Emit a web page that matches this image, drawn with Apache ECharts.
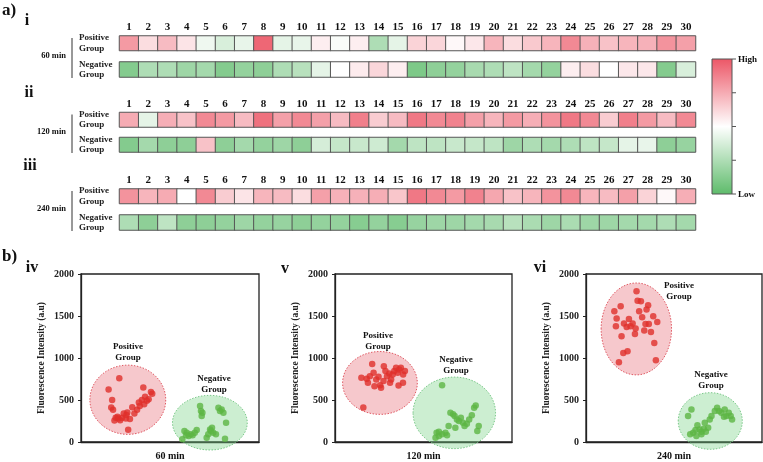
<!DOCTYPE html>
<html><head><meta charset="utf-8">
<script src="https://cdn.jsdelivr.net/npm/echarts@6/dist/echarts.min.js"></script>
<style>html,body{margin:0;padding:0;background:#fff}#c{width:763px;height:462px}</style>
</head><body><div id="c"></div>
<script>
// ---------- heatmap data (0 = Low / green, 1 = High / red) ----------
const columns = ['1','2','3','4','5','6','7','8','9','10','11','12','13','14','15','16','17','18','19','20','21','22','23','24','25','26','27','28','29','30'];
const rowNames = ['Positive\nGroup', 'Negative\nGroup'];
const timeLabels = ['60 min', '120 min', '240 min'];
const pos60  = [0.8,0.6,0.7,0.58,0.45,0.38,0.43,0.95,0.42,0.43,0.55,0.48,0.55,0.25,0.42,0.63,0.62,0.52,0.57,0.72,0.6,0.66,0.72,0.85,0.73,0.68,0.72,0.73,0.82,0.78];
const neg60  = [0.12,0.25,0.25,0.2,0.22,0.12,0.17,0.15,0.25,0.28,0.42,0.5,0.56,0.62,0.55,0.1,0.15,0.17,0.23,0.25,0.3,0.22,0.17,0.55,0.6,0.5,0.57,0.57,0.12,0.38];
const pos120 = [0.75,0.42,0.74,0.68,0.85,0.8,0.7,0.92,0.78,0.85,0.78,0.7,0.88,0.65,0.7,0.9,0.85,0.87,0.78,0.72,0.8,0.74,0.82,0.9,0.85,0.65,0.88,0.8,0.7,0.85];
const neg120 = [0.12,0.22,0.15,0.15,0.68,0.15,0.22,0.17,0.2,0.15,0.37,0.32,0.33,0.35,0.22,0.3,0.3,0.33,0.32,0.3,0.2,0.25,0.22,0.25,0.3,0.32,0.42,0.43,0.15,0.18];
const pos240 = [0.82,0.72,0.75,0.5,0.85,0.65,0.58,0.72,0.7,0.6,0.78,0.73,0.73,0.74,0.67,0.9,0.85,0.8,0.87,0.76,0.68,0.72,0.82,0.85,0.72,0.7,0.78,0.63,0.52,0.74];
const neg240 = [0.25,0.15,0.3,0.15,0.15,0.17,0.2,0.17,0.18,0.15,0.17,0.17,0.13,0.17,0.13,0.18,0.2,0.2,0.22,0.23,0.28,0.24,0.2,0.24,0.2,0.2,0.22,0.22,0.25,0.22];
const scaleColors = ['#5dbb6a', '#ffffff', '#ec5666'];
const scaleText = ['High', 'Low'];

// ---------- scatter data: [x position (0-10), fluorescence] ----------
const yTicks = [0, 500, 1000, 1500, 2000];
const pos60Pts = [[2.15,760],[1.55,625],[1.75,500],[1.7,410],[1.8,385],[1.95,290],[1.88,255],[2.1,280],[2.2,260],[2.3,290],[2.4,340],[2.55,320],[2.52,280],[2.65,145],[2.75,275],[2.88,415],[3.0,340],[3.15,385],[3.3,430],[3.42,500],[3.5,650],[3.6,540],[3.7,490],[3.8,510],[3.93,595],[4.0,575],[3.25,470],[2.6,350],[2.05,300],[3.55,450]];
const neg60Pts = [[5.69,32],[5.81,131],[5.94,111],[6.05,71],[6.16,91],[6.27,79],[6.39,111],[6.5,143],[6.69,428],[6.74,368],[6.82,348],[6.78,309],[7.06,51],[7.15,91],[7.25,150],[7.36,170],[7.43,111],[7.58,91],[7.72,408],[7.81,368],[7.9,388],[8.0,348],[8.15,230],[8.09,40],[5.9,80],[7.3,130]];
const pos120Pts = [[1.6,412],[1.49,764],[2.1,930],[1.97,784],[1.86,705],[2.18,824],[2.33,745],[2.46,776],[2.55,677],[2.6,645],[2.76,903],[2.85,844],[2.94,784],[3.07,816],[3.17,745],[3.26,804],[3.35,844],[3.45,883],[3.54,824],[3.63,863],[3.72,883],[3.85,804],[3.95,844],[3.59,673],[3.84,705],[3.11,705],[2.74,725],[2.23,665],[1.79,752]];
const neg120Pts = [[6.05,677],[5.74,111],[5.68,51],[5.87,71],[6.05,91],[6.24,111],[6.33,79],[6.52,348],[6.67,329],[6.76,309],[6.89,269],[7.0,249],[7.11,289],[7.23,230],[7.32,190],[7.45,218],[7.58,269],[7.73,317],[7.86,408],[7.95,436],[8.12,190],[8.04,131],[6.8,170],[6.42,190],[5.87,123]];
const pos240Pts = [[2.87,1794],[2.93,1683],[3.12,1675],[3.53,1628],[3.44,1576],[3.02,1556],[1.97,1616],[1.61,1556],[1.74,1469],[1.7,1378],[2.02,1259],[2.16,1410],[2.44,1465],[2.31,1370],[2.53,1378],[2.65,1410],[2.78,1287],[3.19,1485],[3.31,1327],[3.38,1406],[3.57,1406],[3.69,1311],[3.82,1497],[4.05,1430],[3.88,1180],[3.97,974],[2.12,1061],[2.36,1081],[1.87,950],[2.82,1350]];
const neg240Pts = [[5.8,309],[5.99,388],[5.92,91],[6.09,111],[6.22,143],[6.33,198],[6.45,150],[6.56,123],[6.69,158],[6.81,123],[6.94,170],[7.03,269],[7.13,309],[7.32,368],[7.45,408],[7.56,368],[7.69,348],[7.84,301],[7.98,309],[8.11,348],[8.22,309],[8.3,269],[7.88,388],[6.27,71],[6.56,91],[6.75,230]];
// ellipses: [centerX, centerY, radiusX, radiusY] in data units
const posEllipses = [[2.63,503,2.13,412],[2.54,703,2.11,374],[2.86,1346,2.0,547]];
const negEllipses = [[7.24,230,2.1,325],[6.74,347,2.33,426],[7.06,250,1.82,337]];
const groupLabels = ['Positive\nGroup', 'Negative\nGroup'];

const FONT = '"Liberation Serif", "Times New Roman", serif';

// ---------- layout ----------
const hmLeft = 119.5, hmWidth = 576;
const hmRows = [
  {top: 36, h: 14.5, vals: pos60, name: rowNames[0], showCols: true},
  {top: 62, h: 15, vals: neg60, name: rowNames[1], showCols: false},
  {top: 112.5, h: 14.5, vals: pos120, name: rowNames[0], showCols: true},
  {top: 137.5, h: 14.5, vals: neg120, name: rowNames[1], showCols: false},
  {top: 189, h: 14.5, vals: pos240, name: rowNames[0], showCols: true},
  {top: 215, h: 15, vals: neg240, name: rowNames[1], showCols: false}
];
const scPlots = [
  {left: 81, width: 178, pos: pos60Pts, neg: neg60Pts},
  {left: 335, width: 177, pos: pos120Pts, neg: neg120Pts},
  {left: 586, width: 176, pos: pos240Pts, neg: neg240Pts}
];
const scTop = 274, scH = 169;

const grid = [], xAxis = [], yAxis = [], series = [];
hmRows.forEach((r, k) => {
  grid.push({left: hmLeft, top: r.top, width: hmWidth, height: r.h});
  xAxis.push({gridIndex: k, type: 'category', data: columns, position: 'top',
    axisLine: {show: false}, axisTick: {show: false}, splitLine: {show: false},
    axisLabel: {show: r.showCols, margin: 3, fontFamily: FONT, fontWeight: 'bold', fontSize: 11, color: '#111'}});
  yAxis.push({gridIndex: k, type: 'category', data: [r.name],
    axisLine: {show: false}, axisTick: {show: false}, splitLine: {show: false},
    axisLabel: {align: 'left', margin: 40.5, fontFamily: FONT, fontWeight: 'bold', fontSize: 9, lineHeight: 10.5, color: '#222'}});
  series.push({type: 'heatmap', xAxisIndex: k, yAxisIndex: k,
    data: r.vals.map((v, i) => [i, 0, v]),
    itemStyle: {borderColor: '#555', borderWidth: 1}, emphasis: {disabled: true}});
});

function ellipseSeries(idx, data, fill, stroke) {
  return {type: 'custom', xAxisIndex: idx, yAxisIndex: idx, clip: false, z: 1,
    data: [data], encode: {x: 0, y: 1}, silent: true,
    renderItem: function (params, api) {
      const c = api.coord([api.value(0), api.value(1)]);
      const s = api.size([api.value(2), api.value(3)]);
      return {type: 'ellipse', shape: {cx: c[0], cy: c[1], rx: s[0], ry: s[1]},
        style: {fill: fill, stroke: stroke, lineWidth: 1, lineDash: [1.5, 1.5]}};
    }};
}

scPlots.forEach((p, j) => {
  const k = 6 + j;
  grid.push({left: p.left, top: scTop, width: p.width, height: scH, show: true,
    borderColor: '#222', borderWidth: 1.3, backgroundColor: 'transparent'});
  xAxis.push({gridIndex: k, type: 'value', min: 0, max: 10,
    axisLine: {show: true, lineStyle: {color: '#222', width: 1.3}}, axisTick: {show: false},
    axisLabel: {show: false}, splitLine: {show: false},
    name: timeLabels[j], nameLocation: 'middle', nameGap: 9,
    nameTextStyle: {fontFamily: FONT, fontWeight: 'bold', fontSize: 10, color: '#111'}});
  yAxis.push({gridIndex: k, type: 'value', min: yTicks[0], max: yTicks[yTicks.length - 1], interval: yTicks[1] - yTicks[0],
    axisLine: {show: true, lineStyle: {color: '#222', width: 1.3}},
    axisTick: {show: true, length: 3, lineStyle: {color: '#222'}},
    axisLabel: {margin: 7, fontFamily: FONT, fontWeight: 'bold', fontSize: 10, color: '#222', formatter: (v) => String(v)},
    splitLine: {show: false},
    name: 'Fluorescence Intensity (a.u)', nameLocation: 'middle', nameGap: 34, nameRotate: 90,
    nameTextStyle: {fontFamily: FONT, fontWeight: 'bold', fontSize: 9.5, color: '#222'}});
  series.push(ellipseSeries(k, posEllipses[j], 'rgba(232,110,120,0.38)', '#e05a64'));
  series.push(ellipseSeries(k, negEllipses[j], 'rgba(120,210,135,0.38)', '#7cc98a'));
  series.push({type: 'scatter', xAxisIndex: k, yAxisIndex: k, data: p.pos, symbolSize: 6.5, z: 3,
    itemStyle: {color: '#e0302a'}});
  series.push({type: 'scatter', xAxisIndex: k, yAxisIndex: k, data: p.neg, symbolSize: 6.5, z: 3,
    itemStyle: {color: '#5cb544'}});
});

const bold = (size) => ({fontFamily: FONT, fontWeight: 'bold', fontSize: size, fill: '#111'});
const graphic = [
  {type: 'text', left: 2, top: 2, style: Object.assign({text: 'a)'}, bold(17))},
  {type: 'text', left: 2, top: 248, style: Object.assign({text: 'b)'}, bold(17))},
  {type: 'text', x: 27, y: 21, style: Object.assign({text: 'i', align: 'center', verticalAlign: 'middle'}, bold(16))},
  {type: 'text', x: 29, y: 93, style: Object.assign({text: 'ii', align: 'center', verticalAlign: 'middle'}, bold(16))},
  {type: 'text', x: 30, y: 166, style: Object.assign({text: 'iii', align: 'center', verticalAlign: 'middle'}, bold(16))},
  {type: 'text', x: 32, y: 268, style: Object.assign({text: 'iv', align: 'center', verticalAlign: 'middle'}, bold(16))},
  {type: 'text', x: 285, y: 269, style: Object.assign({text: 'v', align: 'center', verticalAlign: 'middle'}, bold(16))},
  {type: 'text', x: 540, y: 268, style: Object.assign({text: 'vi', align: 'center', verticalAlign: 'middle'}, bold(16))}
];
// time labels + brackets for heatmap blocks
[[0, 1], [2, 3], [4, 5]].forEach((pair, j) => {
  const t = hmRows[pair[0]].top, b = hmRows[pair[1]].top + hmRows[pair[1]].h;
  graphic.push({type: 'line', shape: {x1: 72, y1: t + 2, x2: 72, y2: b + 1}, style: {stroke: '#333', lineWidth: 1}});
  graphic.push({type: 'text', x: 66, y: (t + b) / 2 - 0.5, style: Object.assign({text: timeLabels[j], align: 'right', verticalAlign: 'middle'}, bold(8.5))});
});
// colour scale bar
const barX = 712, barY = 59, barW = 20, barH = 135;
graphic.push({type: 'rect', shape: {x: barX, y: barY, width: barW, height: barH},
  style: {fill: new echarts.graphic.LinearGradient(0, 0, 0, 1, [
    {offset: 0, color: scaleColors[2]}, {offset: 0.5, color: scaleColors[1]}, {offset: 1, color: scaleColors[0]}]),
    stroke: '#555', lineWidth: 1}});
for (let q = 0; q <= 4; q++) {
  const yy = barY + barH * q / 4;
  graphic.push({type: 'line', shape: {x1: barX + barW, y1: yy, x2: barX + barW + 4, y2: yy}, style: {stroke: '#555', lineWidth: 1}});
}
graphic.push({type: 'text', x: 738, y: barY + 1, style: Object.assign({text: scaleText[0], verticalAlign: 'middle'}, bold(9))});
graphic.push({type: 'text', x: 738, y: barY + barH + 1, style: Object.assign({text: scaleText[1], verticalAlign: 'middle'}, bold(9))});
// group labels in scatter plots
const labelPos = [[128, 352], [214, 384], [378, 341], [456, 365], [679, 291], [711, 380]];
labelPos.forEach((lp, i) => {
  graphic.push({type: 'text', x: lp[0], y: lp[1], z: 10,
    style: Object.assign({text: groupLabels[i % 2], align: 'center', verticalAlign: 'middle', lineHeight: 10.5}, bold(9))});
});

const chart = echarts.init(document.getElementById('c'), null, {renderer: 'canvas'});
chart.setOption({
  animation: false,
  backgroundColor: '#fff',
  grid: grid, xAxis: xAxis, yAxis: yAxis,
  visualMap: {show: false, min: 0, max: 1, seriesIndex: [0, 1, 2, 3, 4, 5], inRange: {color: scaleColors}},
  series: series,
  graphic: graphic
});
</script></body></html>
